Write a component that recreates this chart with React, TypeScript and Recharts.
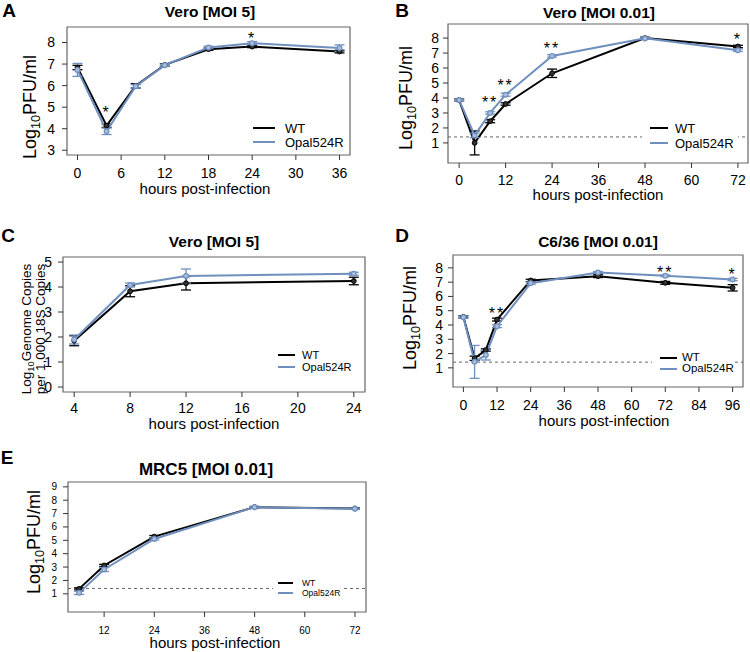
import React from 'react';
import { LineChart, Line, XAxis, YAxis, ErrorBar, ReferenceLine, ReferenceArea, ReferenceDot } from 'recharts';

const FONT = '"Liberation Sans", Arial, Helvetica, sans-serif';
const BLUE = '#6f8fbf';
const seriesNames = ['WT', 'Opal524R'];
const seriesColors = ['#000000', BLUE];

// ---------- Panel A : Vero [MOI 5] ----------
const hoursA = [0, 4, 8, 12, 18, 24, 36];
const wtA = [6.84, 4.14, 5.99, 6.96, 7.69, 7.81, 7.58];
const wtErrA = [0.1, 0.08, 0.1, 0.06, 0.05, 0.05, 0.06];
const opalA = [6.73, 3.88, 5.97, 6.95, 7.77, 7.97, 7.74];
const opalErrA = [0.3, 0.15, 0.08, 0.05, 0.06, 0.07, 0.15];
const starsA = [{ x: 4, y: 4.92, t: '*' }, { x: 24, y: 8.35, t: '*' }];
const xTicksA = [0, 6, 12, 18, 24, 30, 36];
const yTicksA = [3, 4, 5, 6, 7, 8];

// ---------- Panel B : Vero [MOI 0.01] ----------
const hoursB = [0, 4, 8, 12, 24, 48, 72];
const wtB = [3.86, 1.0, 2.45, 3.6, 5.65, 8.0, 7.44];
const wtErrB = [0.08, 0.8, 0.1, 0.08, 0.28, 0.06, 0.08];
const opalB = [3.86, 1.5, 3.0, 4.22, 6.81, 7.98, 7.19];
const opalErrB = [0.08, 0.15, 0.08, 0.1, 0.08, 0.06, 0.08];
const starsB = [
  { x: 8, y: 3.9, t: '**' },
  { x: 12, y: 5.05, t: '**' },
  { x: 24, y: 7.55, t: '**' },
  { x: 72, y: 8.15, t: '*' },
];
const xTicksB = [0, 12, 24, 36, 48, 60, 72];
const yTicksB = [1, 2, 3, 4, 5, 6, 7, 8];

// ---------- Panel C : Vero [MOI 5] genome copies ----------
const hoursC = [4, 8, 12, 24];
const wtC = [1.85, 3.83, 4.15, 4.24];
const wtErrC = [0.2, 0.22, 0.27, 0.15];
const opalC = [1.9, 4.08, 4.44, 4.53];
const opalErrC = [0.18, 0.08, 0.28, 0.06];
const xTicksC = [4, 8, 12, 16, 20, 24];
const yTicksC = [0, 1, 2, 3, 4, 5];

// ---------- Panel D : C6/36 [MOI 0.01] ----------
const hoursD = [0, 4, 8, 12, 24, 48, 72, 96];
const wtD = [4.57, 1.67, 2.25, 4.38, 7.12, 7.42, 6.95, 6.6];
const wtErrD = [0.08, 0.15, 0.08, 0.1, 0.08, 0.1, 0.1, 0.22];
const opalD = [4.55, 1.42, 1.9, 3.92, 6.93, 7.68, 7.44, 7.18];
const opalErrD = [0.08, 1.15, 0.35, 0.1, 0.08, 0.06, 0.06, 0.08];
const starsD = [
  { x: 12, y: 5.03, t: '**' },
  { x: 72, y: 7.93, t: '**' },
  { x: 96, y: 7.8, t: '*' },
];
const xTicksD = [0, 12, 24, 36, 48, 60, 72, 84, 96];
const yTicksD = [1, 2, 3, 4, 5, 6, 7, 8];

// ---------- Panel E : MRC5 [MOI 0.01] ----------
const hoursE = [6, 12, 24, 48, 72];
const wtE = [1.37, 3.12, 5.28, 7.48, 7.38];
const wtErrE = [0.08, 0.08, 0.08, 0.05, 0.05];
const opalE = [1.07, 2.82, 5.1, 7.48, 7.36];
const opalErrE = [0.12, 0.15, 0.08, 0.05, 0.05];
const xTicksE = [12, 24, 36, 48, 60, 72];
const yTicksE = [1, 2, 3, 4, 5, 6, 7, 8, 9];

const LIMIT = 1.4;

type Box = { x: number; y: number; w: number; h: number };
type Star = { x: number; y: number; t: string };

type PanelProps = {
  box: Box;
  xDomain: [number, number];
  yDomain: [number, number];
  xTicks: number[];
  yTicks: number[];
  hours: number[];
  wt: number[];
  wtErr: number[];
  opal: number[];
  opalErr: number[];
  stars?: Star[];
  limit?: number;
  tickFont: number;
  xMargin: number;
  yMargin: number;
  lineW?: number;
  dotR?: number;
};

function Panel(p: PanelProps) {
  const data = p.hours.map((h, i) => ({ h, wt: p.wt[i], wtE: p.wtErr[i], op: p.opal[i], opE: p.opalErr[i] }));
  const ML = 45, MT = 10, MR = 10, MB = 40;
  const lw = p.lineW ?? 2;
  const r = p.dotR ?? 2.4;
  const tickStyle = { fontSize: p.tickFont, fill: '#000', fontFamily: FONT };
  return (
    <div style={{ position: 'absolute', left: p.box.x - ML, top: p.box.y - MT }}>
      <LineChart
        width={p.box.w + ML + MR}
        height={p.box.h + MT + MB}
        data={data}
        margin={{ top: MT, right: MR, bottom: 0, left: 0 }}
      >
        <XAxis
          dataKey="h"
          type="number"
          domain={p.xDomain}
          ticks={p.xTicks}
          allowDataOverflow
          interval={0}
          axisLine={false}
          tickLine={{ stroke: '#333', strokeWidth: 1 }}
          tickSize={5}
          tickMargin={p.xMargin}
          height={MB}
          tick={tickStyle}
        />
        <YAxis
          type="number"
          domain={p.yDomain}
          ticks={p.yTicks}
          allowDataOverflow
          interval={0}
          axisLine={false}
          tickLine={{ stroke: '#333', strokeWidth: 1 }}
          tickSize={5}
          tickMargin={p.yMargin}
          width={ML}
          tick={tickStyle}
        />
        <ReferenceArea
          x1={p.xDomain[0]}
          x2={p.xDomain[1]}
          y1={p.yDomain[0]}
          y2={p.yDomain[1]}
          fill="none"
          fillOpacity={0}
          stroke="#666"
          strokeWidth={1.2}
          ifOverflow="visible"
        />
        {p.limit !== undefined && (
          <ReferenceLine y={p.limit} stroke="#666" strokeWidth={1} strokeDasharray="3 3" />
        )}
        <Line
          dataKey="wt"
          stroke="#000"
          strokeWidth={lw}
          dot={{ r, fill: '#333', stroke: '#000', strokeWidth: 1 }}
          isAnimationActive={false}
        >
          <ErrorBar dataKey="wtE" width={5} stroke="#000" strokeWidth={1.3} direction="y" />
        </Line>
        <Line
          dataKey="op"
          stroke={BLUE}
          strokeWidth={lw}
          dot={{ r, fill: '#a9bedd', stroke: BLUE, strokeWidth: 1.2 }}
          isAnimationActive={false}
        >
          <ErrorBar dataKey="opE" width={5} stroke={BLUE} strokeWidth={1.3} direction="y" />
        </Line>
        {(p.stars || []).map((s, i) => (
          <ReferenceDot
            key={i}
            x={s.x}
            y={s.y}
            r={1}
            ifOverflow="visible"
            shape={(props: any) => (
              <text
                x={props.cx}
                y={props.cy}
                dy="0.55em"
                textAnchor="middle"
                fontSize={16}
                fontFamily={FONT}
                letterSpacing={2}
                fill="#000"
              >
                {s.t}
              </text>
            )}
          />
        ))}
      </LineChart>
    </div>
  );
}

type KeyProps = { x1: number; x2: number; tx: number; ys: number[]; font: number; lw: number; bg?: Box };
function Key(k: KeyProps) {
  return (
    <>
      {k.bg && (
        <div style={{ position: 'absolute', left: k.bg.x, top: k.bg.y, width: k.bg.w, height: k.bg.h, background: '#fff' }} />
      )}
      {seriesNames.map((name, i) => (
        <React.Fragment key={name}>
          <div
            style={{
              position: 'absolute',
              left: k.x1,
              top: k.ys[i] - k.lw / 2,
              width: k.x2 - k.x1,
              height: k.lw,
              background: seriesColors[i],
            }}
          />
          <div
            style={{
              position: 'absolute',
              left: k.tx,
              top: k.ys[i],
              transform: 'translateY(-50%)',
              fontSize: k.font,
              lineHeight: 1,
              whiteSpace: 'nowrap',
            }}
          >
            {name}
          </div>
        </React.Fragment>
      ))}
    </>
  );
}

function Txt(props: { x: number; y: number; size: number; bold?: boolean; rotate?: boolean; children: React.ReactNode }) {
  return (
    <div
      style={{
        position: 'absolute',
        left: props.x,
        top: props.y,
        transform: `translate(-50%, -50%)${props.rotate ? ' rotate(-90deg)' : ''}`,
        fontSize: props.size,
        fontWeight: props.bold ? 'bold' : 'normal',
        lineHeight: 1,
        whiteSpace: 'nowrap',
        textAlign: 'center',
      }}
    >
      {props.children}
    </div>
  );
}

const subStyle: React.CSSProperties = { fontSize: '0.7em', position: 'relative', top: '0.3em', verticalAlign: 'baseline', lineHeight: 0 };

const YLab = () => (
  <span>
    Log<span style={subStyle}>10</span>PFU/ml
  </span>
);

export default function App() {
  return (
    <div
      style={{
        position: 'absolute',
        left: 0,
        top: 0,
        width: 750,
        height: 652,
        background: '#fff',
        fontFamily: FONT,
        color: '#000',
        overflow: 'hidden',
      }}
    >
      {/* Panel A */}
      <Panel
        box={{ x: 67, y: 27, w: 283, h: 128 }}
        xDomain={[-1.44, 37.44]}
        yDomain={[2.78, 8.72]}
        xTicks={xTicksA}
        yTicks={yTicksA}
        hours={hoursA}
        wt={wtA}
        wtErr={wtErrA}
        opal={opalA}
        opalErr={opalErrA}
        stars={starsA}
        tickFont={14}
        xMargin={8}
        yMargin={7}
      />
      <Key x1={253} x2={275} tx={285} ys={[128, 142]} font={13} lw={2.4} />
      <Txt x={9} y={10} size={19} bold>A</Txt>
      <Txt x={210} y={12} size={15.5} bold>Vero [MOI 5]</Txt>
      <Txt x={30} y={107} size={18} rotate><YLab /></Txt>
      <Txt x={205} y={188} size={15}>hours post-infection</Txt>

      {/* Panel B */}
      <Panel
        box={{ x: 448, y: 24, w: 300, h: 139 }}
        xDomain={[-2.88, 74.6]}
        yDomain={[-0.34, 8.94]}
        xTicks={xTicksB}
        yTicks={yTicksB}
        hours={hoursB}
        wt={wtB}
        wtErr={wtErrB}
        opal={opalB}
        opalErr={opalErrB}
        stars={starsB}
        limit={LIMIT}
        tickFont={14}
        xMargin={7}
        yMargin={4}
      />
      <Key x1={650} x2={668} tx={675} ys={[128, 143]} font={13} lw={2.4} bg={{ x: 642, y: 119, w: 96, h: 33 }} />
      <Txt x={402} y={10} size={19} bold>B</Txt>
      <Txt x={599} y={13} size={15.5} bold>Vero [MOI 0.01]</Txt>
      <Txt x={406} y={98} size={18} rotate><YLab /></Txt>
      <Txt x={598} y={194} size={15}>hours post-infection</Txt>

      {/* Panel C */}
      <Panel
        box={{ x: 63, y: 257, w: 302, h: 135 }}
        xDomain={[3.2, 24.8]}
        yDomain={[-0.2, 5.2]}
        xTicks={xTicksC}
        yTicks={yTicksC}
        hours={hoursC}
        wt={wtC}
        wtErr={wtErrC}
        opal={opalC}
        opalErr={opalErrC}
        tickFont={14}
        xMargin={6}
        yMargin={6}
      />
      <Key x1={278} x2={295} tx={302} ys={[355, 367]} font={11} lw={2.2} />
      <Txt x={8} y={235} size={19} bold>C</Txt>
      <Txt x={214} y={242} size={15.5} bold>Vero [MOI 5]</Txt>
      <Txt x={33} y={329} size={13.5} rotate>
        <div>
          Log<span style={subStyle}>10</span>Genome Copies
        </div>
        <div>per 1,000 18S Copies</div>
      </Txt>
      <Txt x={214} y={423} size={15}>hours post-infection</Txt>

      {/* Panel D */}
      <Panel
        box={{ x: 453, y: 255, w: 290, h: 132 }}
        xDomain={[-3.7, 99.7]}
        yDomain={[-0.34, 8.9]}
        xTicks={xTicksD}
        yTicks={yTicksD}
        hours={hoursD}
        wt={wtD}
        wtErr={wtErrD}
        opal={opalD}
        opalErr={opalErrD}
        stars={starsD}
        limit={LIMIT}
        tickFont={14}
        xMargin={8}
        yMargin={5}
      />
      <Key x1={660} x2={677} tx={682} ys={[358, 369]} font={11.5} lw={2.2} bg={{ x: 652, y: 351, w: 81, h: 25 }} />
      <Txt x={402} y={235} size={19} bold>D</Txt>
      <Txt x={598} y={242} size={15.5} bold>C6/36 [MOI 0.01]</Txt>
      <Txt x={410} y={318} size={18} rotate><YLab /></Txt>
      <Txt x={604} y={420} size={15}>hours post-infection</Txt>

      {/* Panel E */}
      <Panel
        box={{ x: 68, y: 482, w: 298, h: 130 }}
        xDomain={[3.36, 74.64]}
        yDomain={[-0.36, 9.36]}
        xTicks={xTicksE}
        yTicks={yTicksE}
        hours={hoursE}
        wt={wtE}
        wtErr={wtErrE}
        opal={opalE}
        opalErr={opalErrE}
        limit={LIMIT}
        tickFont={10}
        xMargin={10}
        yMargin={6}
      />
      <Key x1={278} x2={293} tx={302} ys={[583, 593]} font={8.5} lw={2} bg={{ x: 273, y: 577, w: 70, h: 21 }} />
      <Txt x={7} y={457} size={19} bold>E</Txt>
      <Txt x={206} y={469} size={17} bold>MRC5 [MOI 0.01]</Txt>
      <Txt x={34} y={542} size={18} rotate><YLab /></Txt>
      <Txt x={215} y={642} size={15}>hours post-infection</Txt>
    </div>
  );
}
